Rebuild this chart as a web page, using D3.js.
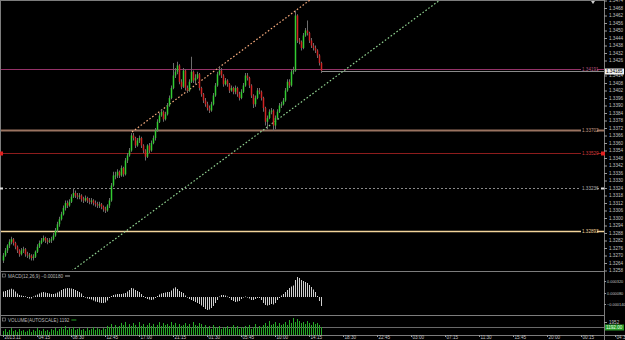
<!DOCTYPE html>
<html>
<head>
<meta charset="utf-8">
<script src="https://cdn.jsdelivr.net/npm/d3@7"></script>
<style>
body{margin:0;background:#000;}
svg{display:block;}
text{font-family:"Liberation Sans",Arial,sans-serif;}
</style>
</head>
<body>
<div id="chart"></div>
<script>
// ---- DATA (EURUSD-like M15 bars) ----
let opens = [
1.3266,1.3270,1.3274,1.3278,1.3281,1.3283,1.3280,1.3277,1.3274,1.3271,
1.3274,1.3275,1.3271,1.3270,1.3270,1.3268,1.3269,1.3273,1.3277,1.3280,
1.3282,1.3284,1.3282,1.3281,1.3282,1.3283,1.3286,1.3290,1.3295,1.3299,
1.3303,1.3308,1.3312,1.3310,1.3313,1.3317,1.3320,1.3318,1.3317,1.3318,
1.3315,1.3314,1.3316,1.3314,1.3313,1.3314,1.3312,1.3311,1.3310,1.3311,
1.3309,1.3307,1.3306,1.3310,1.3314,1.3326,1.3334,1.3334,1.3337,1.3334,
1.3340,1.3335,1.3346,1.3350,1.3354,1.3366,1.3364,1.3358,1.3362,1.3364,
1.3358,1.3354,1.3349,1.3358,1.3354,1.3360,1.3364,1.3370,1.3377,1.3382,
1.3385,1.3379,1.3383,1.3390,1.3396,1.3404,1.3414,1.3417,1.3422,1.3409,
1.3405,1.3418,1.3404,1.3402,1.3409,1.3417,1.3410,1.3412,1.3415,1.3404,
1.3399,1.3394,1.3391,1.3388,1.3386,1.3391,1.3398,1.3406,1.3415,1.3418,
1.3414,1.3407,1.3410,1.3407,1.3402,1.3404,1.3401,1.3404,1.3399,1.3396,
1.3401,1.3406,1.3414,1.3412,1.3406,1.3398,1.3391,1.3396,1.3402,1.3401,
1.3396,1.3388,1.3377,1.3380,1.3385,1.3386,1.3374,1.3380,1.3385,1.3390,
1.3391,1.3394,1.3402,1.3409,1.3406,1.3417,1.3418,1.3462,1.3442,1.3441,
1.3436,1.3446,1.3450,1.3448,1.3442,1.3438,1.3436,1.3434,1.3430,1.3424];

let highs = [
1.3272,1.3276,1.3279,1.3283,1.3285,1.3284,1.3281,1.3278,1.3275,1.3276,
1.3277,1.3276,1.3273,1.3272,1.3271,1.3271,1.3274,1.3279,1.3282,1.3284,
1.3286,1.3285,1.3284,1.3284,1.3285,1.3288,1.3292,1.3297,1.3301,1.3305,
1.3310,1.3314,1.3314,1.3315,1.3319,1.3324,1.3322,1.3320,1.3320,1.3319,
1.3317,1.3318,1.3317,1.3316,1.3316,1.3315,1.3314,1.3313,1.3313,1.3312,
1.3310,1.3309,1.3311,1.3316,1.3328,1.3337,1.3337,1.3339,1.3338,1.3342,
1.3341,1.3348,1.3352,1.3356,1.3368,1.3368,1.3365,1.3364,1.3366,1.3365,
1.3359,1.3355,1.3359,1.3360,1.3362,1.3366,1.3372,1.3379,1.3384,1.3387,
1.3386,1.3385,1.3392,1.3398,1.3406,1.3424,1.3420,1.3425,1.3423,1.3411,
1.3420,1.3419,1.3406,1.3411,1.3429,1.3418,1.3415,1.3417,1.3416,1.3405,
1.3400,1.3396,1.3393,1.3390,1.3393,1.3400,1.3408,1.3417,1.3421,1.3420,
1.3415,1.3412,1.3411,1.3408,1.3406,1.3405,1.3406,1.3405,1.3401,1.3403,
1.3408,1.3416,1.3416,1.3413,1.3407,1.3399,1.3398,1.3404,1.3404,1.3402,
1.3397,1.3389,1.3382,1.3387,1.3388,1.3387,1.3382,1.3387,1.3392,1.3393,
1.3396,1.3404,1.3411,1.3411,1.3419,1.3421,1.3466,1.3463,1.3444,1.3442,
1.3448,1.3452,1.3458,1.3449,1.3444,1.3440,1.3438,1.3435,1.3431,1.3425];

let lows = [
1.3264,1.3269,1.3272,1.3276,1.3279,1.3278,1.3275,1.3272,1.3269,1.3270,
1.3272,1.3269,1.3268,1.3267,1.3266,1.3266,1.3268,1.3272,1.3276,1.3279,
1.3281,1.3280,1.3279,1.3280,1.3280,1.3282,1.3285,1.3289,1.3293,1.3298,
1.3302,1.3306,1.3308,1.3309,1.3312,1.3316,1.3316,1.3315,1.3315,1.3313,
1.3312,1.3313,1.3312,1.3311,1.3311,1.3310,1.3309,1.3308,1.3308,1.3307,
1.3305,1.3304,1.3305,1.3308,1.3313,1.3325,1.3331,1.3332,1.3332,1.3333,
1.3333,1.3334,1.3344,1.3349,1.3353,1.3362,1.3356,1.3357,1.3360,1.3356,
1.3352,1.3346,1.3348,1.3352,1.3353,1.3359,1.3362,1.3369,1.3376,1.3381,
1.3377,1.3378,1.3382,1.3389,1.3395,1.3403,1.3412,1.3415,1.3407,1.3403,
1.3404,1.3402,1.3400,1.3401,1.3408,1.3408,1.3407,1.3411,1.3402,1.3397,
1.3392,1.3389,1.3386,1.3384,1.3385,1.3390,1.3397,1.3405,1.3414,1.3412,
1.3405,1.3406,1.3405,1.3400,1.3401,1.3399,1.3399,1.3397,1.3394,1.3395,
1.3400,1.3405,1.3410,1.3404,1.3396,1.3388,1.3389,1.3395,1.3399,1.3394,
1.3385,1.3374,1.3371,1.3379,1.3383,1.3370,1.3371,1.3379,1.3384,1.3388,
1.3390,1.3393,1.3401,1.3404,1.3405,1.3415,1.3417,1.3440,1.3439,1.3434,
1.3435,1.3445,1.3446,1.3440,1.3436,1.3434,1.3432,1.3428,1.3422,1.3416];

let closes = [
1.3270,1.3274,1.3278,1.3281,1.3283,1.3280,1.3277,1.3274,1.3271,1.3274,
1.3275,1.3271,1.3270,1.3270,1.3268,1.3269,1.3273,1.3277,1.3280,1.3282,
1.3284,1.3282,1.3281,1.3282,1.3283,1.3286,1.3290,1.3295,1.3299,1.3303,
1.3308,1.3312,1.3310,1.3313,1.3317,1.3320,1.3318,1.3317,1.3318,1.3315,
1.3314,1.3316,1.3314,1.3313,1.3314,1.3312,1.3311,1.3310,1.3311,1.3309,
1.3307,1.3306,1.3310,1.3314,1.3326,1.3334,1.3334,1.3337,1.3334,1.3340,
1.3335,1.3346,1.3350,1.3354,1.3366,1.3364,1.3358,1.3362,1.3364,1.3358,
1.3354,1.3349,1.3358,1.3354,1.3360,1.3364,1.3370,1.3377,1.3382,1.3385,
1.3379,1.3383,1.3390,1.3396,1.3404,1.3414,1.3417,1.3422,1.3409,1.3405,
1.3418,1.3404,1.3402,1.3409,1.3417,1.3410,1.3412,1.3415,1.3404,1.3399,
1.3394,1.3391,1.3388,1.3386,1.3391,1.3398,1.3406,1.3415,1.3418,1.3414,
1.3407,1.3410,1.3407,1.3402,1.3404,1.3401,1.3404,1.3399,1.3396,1.3401,
1.3406,1.3414,1.3412,1.3406,1.3398,1.3391,1.3396,1.3402,1.3401,1.3396,
1.3388,1.3377,1.3380,1.3385,1.3386,1.3374,1.3380,1.3385,1.3390,1.3391,
1.3394,1.3402,1.3409,1.3406,1.3417,1.3418,1.3462,1.3442,1.3441,1.3436,
1.3446,1.3450,1.3448,1.3442,1.3438,1.3436,1.3434,1.3430,1.3424,1.3418];

let macdVals = [
0.00011,0.00012,0.00014,0.00015,0.000166,0.00015,0.00011,0.00007,0.00004,0.00003,
0.00002,0.000014,-0.00002,-0.00003,-0.00003,0.00001,0.00003,0.00005,0.00007,0.00009,
0.0001,0.00009,0.00008,0.00007,0.00006,0.00006,0.00007,0.00009,0.00011,0.00014,
0.00016,0.00017,0.00018,0.000176,0.00017,0.00016,0.00014,0.00012,0.0001,0.00007,
0.00002,-0.00001,-0.00003,-0.00004,-0.00005,-0.00007,-0.00009,-0.0001,-0.00011,-0.00012,
-0.00012,-0.00011,-0.00007,-0.00002,0.00002,0.00004,0.00005,0.00006,0.00006,0.00006,
0.00007,0.00008,0.00011,0.00014,0.00018,0.00017,0.00014,0.00012,0.0001,0.00006,
0.00002,-0.00002,-0.00004,-0.00005,-0.00006,-0.00005,-0.00002,0.00002,0.00005,0.00007,
0.00008,0.00009,0.0001,0.0001,0.00013,0.00017,0.000194,0.00016,0.00012,0.0001,
0.00008,0.00003,-0.00001,-0.00004,-0.00006,-0.00008,-0.0001,-0.00012,-0.00014,-0.00017,
-0.0002,-0.00024,-0.00026,-0.00025,-0.00022,-0.00018,-0.00012,-0.00006,0.00001,0.00004,
0.00004,0.00003,0.00001,-0.00002,-0.00006,-0.00008,-0.0001,-0.00009,-0.00008,-0.00004,
-0.00001,0.00001,0,-0.00003,-0.00006,-0.00006,-0.00004,-0.00002,-0.00002,-0.00006,
-0.00012,-0.00016,-0.00017,-0.00016,-0.00014,-0.00015,-0.00012,-0.00006,-0.00002,0.00003,
0.00006,0.0001,0.00014,0.00018,0.00021,0.00023,0.00034,0.0004,0.00038,0.00034,
0.00032,0.0003,0.00028,0.00024,0.0002,0.00015,0.0001,0.00002,-0.00008,-0.00018];

let volumes = [
612,884,455,760,1037,590,742,468,905,611,
733,470,622,881,452,769,605,1044,748,590,
917,602,751,476,893,740,1061,618,902,1209,
886,1352,764,1050,911,1188,742,902,1040,755,
897,611,1055,748,920,1196,763,1047,889,752,
1039,904,1366,1201,1648,1052,1497,1186,1344,1812,
1503,1958,1211,1640,1355,1797,1512,1198,1944,1361,
1652,1207,1488,1806,1349,1661,1203,1511,1936,1344,
1790,1502,1655,1352,1947,1493,1808,1215,1647,1368,
1510,1795,1346,1652,1196,1952,1504,1357,1800,1644,
1208,1495,1052,1358,897,1502,1190,1046,1351,905,
1197,1061,1349,903,1212,1490,1057,1355,894,1203,
1048,1362,1195,1507,911,1204,1649,1043,1347,1210,
1496,1807,1352,2104,1509,1655,1948,1360,1795,1498,
1662,1951,1505,2247,1806,2553,1940,2398,2101,1793,
1955,1648,2096,1810,1497,1941,1652,1802,1506,1192];

// horizontal price levels drawn on the chart
let levelPrices = [1.34191, 1.33702, 1.33520, 1.33236, 1.32893];
let bidPrice = 1.34185;

// trend channel anchors: [bar index, price]
let channelUpper = [[64.5, 1.33688], [153.5, 1.34744]];
let channelLower = [[30, 1.32525], [218.5, 1.34744]];

// axis ticks / labels
let priceTicks = [1.3474,1.3468,1.3462,1.3456,1.3450,1.3444,1.3438,1.3432,1.3426,1.3420,
  1.3414,1.3408,1.3402,1.3396,1.3390,1.3384,1.3378,1.3372,1.3366,1.3360,1.3354,1.3348,
  1.3342,1.3336,1.3330,1.3324,1.3318,1.3312,1.3306,1.3300,1.3294,1.3288,1.3282,1.3276,
  1.3270,1.3264,1.3258];
let macdTicks = [0.00032, 0.00008, -0.00014];
let volTicks = [1952];
let timeIdx = [0,17,34,51,68,85,102,119,136,153,170,187,204,221,238,255,272,289,306];
let timeLabels = ["2013.11","04:15","08:30","12:45","17:00","21:15","01:30","05:45","10:00",
  "14:15","18:30","22:45","03:00","07:15","11:30","15:45","20:00","00:15","04:30"];

//DIMENSIONS
let widthh = 625, heightt = 340, plotR = 604;
let fontS = 4.6;

let svg = d3.select('#chart').append('svg')
  .attr('width', widthh).attr('height', heightt)
  .style('background-color', '#000');

let xScale = d3.scaleLinear().domain([0, 300]).range([3, 603]);
let yScale = d3.scaleLinear().domain([1.32584, 1.34744]).range([270, 0]);
let yMacd = d3.scaleLinear().domain([-0.00036, 0.00048]).range([315, 273]);
let yVol = d3.scaleLinear().domain([0, 2850]).range([335, 316]);

svg.append('clipPath').attr('id', 'mainClip')
  .append('rect').attr('x', 0).attr('y', 0).attr('width', plotR).attr('height', 270);

let frameCol = '#7c7c7c';
// frame / separators
let hl = (x1, x2, yy, col) => svg.append('line').attr('x1', x1).attr('x2', x2)
  .attr('y1', yy).attr('y2', yy).attr('stroke', col || frameCol).attr('stroke-width', 1);
hl(0, plotR, 0.5);
hl(0, plotR, 271.5);
hl(0, plotR, 315.5);
hl(0, widthh, 335.5);
svg.append('line').attr('x1', 0.5).attr('x2', 0.5).attr('y1', 0).attr('y2', 336).attr('stroke', frameCol);
svg.append('line').attr('x1', plotR + 0.5).attr('x2', plotR + 0.5).attr('y1', 0).attr('y2', heightt).attr('stroke', frameCol);

// ---- level lines ----
let levelStyle = [
  {col: '#953268', txt: '#b0507f', w: 1, dash: null},
  {col: '#9a7360', txt: '#c49a80', w: 2, dash: null},
  {col: '#8c1c1c', txt: '#d03a3a', w: 1, dash: null},
  {col: '#8a8a8a', txt: '#b0b0b0', w: 1, dash: '2,2'},
  {col: '#f2d49a', txt: '#f2d49a', w: 1.3, dash: null}
];
let gLev = svg.append('g');
levelPrices.forEach((p, i) => {
  let st = levelStyle[i], yy = Math.round(yScale(p)) + 0.5;
  gLev.append('line').attr('x1', 1).attr('x2', plotR).attr('y1', yy).attr('y2', yy)
    .attr('stroke', st.col).attr('stroke-width', st.w)
    .attr('stroke-dasharray', st.dash);
  gLev.append('rect').attr('x', 581).attr('y', yy - 3).attr('width', 16).attr('height', 6).attr('fill', '#000');
  gLev.append('text').attr('x', 582).attr('y', yy).attr('dy', '0.35em')
    .style('font-size', fontS + 'px').style('fill', st.txt).text(d3.format('.5f')(p));
});
// red level markers at both edges
let redY = Math.round(yScale(levelPrices[2]));
svg.append('rect').attr('x', 0).attr('y', redY - 1.5).attr('width', 3).attr('height', 4).attr('fill', '#e02020');
svg.append('rect').attr('x', 601).attr('y', redY - 1.5).attr('width', 4).attr('height', 4).attr('fill', '#e02020');
let dotY = Math.round(yScale(levelPrices[3]));
svg.append('rect').attr('x', 0).attr('y', dotY - 0.5).attr('width', 3).attr('height', 2).attr('fill', '#ddd');
svg.append('rect').attr('x', 601).attr('y', dotY - 0.5).attr('width', 3).attr('height', 2).attr('fill', '#ddd');

// bid line from last bar
let bidY = Math.round(yScale(bidPrice)) + 1.5;
svg.append('line').attr('x1', xScale(closes.length - 1)).attr('x2', plotR)
  .attr('y1', bidY).attr('y2', bidY).attr('stroke', '#8a8a8a');

// ---- channels ----
let chLine = d3.line().x(d => xScale(d[0])).y(d => yScale(d[1]));
let gCh = svg.append('g').attr('clip-path', 'url(#mainClip)');
gCh.append('path').attr('d', chLine(channelUpper)).attr('fill', 'none')
  .attr('stroke', '#f5aa7c').attr('stroke-width', 1.2).attr('stroke-dasharray', '1.6,2');
gCh.append('path').attr('d', chLine(channelLower)).attr('fill', 'none')
  .attr('stroke', '#8fd08f').attr('stroke-width', 1.2).attr('stroke-dasharray', '1.6,2');

// ---- candles ----
let bars = closes.map((c, i) => ({i: i, o: opens[i], h: highs[i], l: lows[i], c: c}));
let gC = svg.append('g');
gC.selectAll('line.wick').data(bars).enter().append('line').attr('class', 'wick')
  .attr('x1', d => xScale(d.i) + 0.5).attr('x2', d => xScale(d.i) + 0.5)
  .attr('y1', d => yScale(d.h)).attr('y2', d => yScale(d.l))
  .attr('stroke', '#6c6c6c').attr('stroke-width', 1);
gC.selectAll('rect.body').data(bars).enter().append('rect').attr('class', 'body')
  .attr('x', d => xScale(d.i) - 0.25)
  .attr('width', 1.5)
  .attr('y', d => yScale(Math.max(d.o, d.c)))
  .attr('height', d => Math.max(1, Math.abs(yScale(d.o) - yScale(d.c))))
  .attr('fill', d => d.c >= d.o ? '#33cc33' : '#d02424');

// ---- MACD ----
let gM = svg.append('g');
gM.selectAll('rect').data(macdVals).enter().append('rect')
  .attr('x', (d, i) => xScale(i)).attr('width', 1)
  .attr('y', d => yMacd(Math.max(0, d)))
  .attr('height', d => Math.max(0.6, Math.abs(yMacd(d) - yMacd(0))))
  .attr('fill', '#cfcfcf');

// ---- Volume ----
let lastVol = volumes[volumes.length - 1];
hl(1, plotR, Math.round(yVol(lastVol)) + 0.5, '#6a6a6a');
let gV = svg.append('g');
gV.selectAll('rect').data(volumes).enter().append('rect')
  .attr('x', (d, i) => xScale(i)).attr('width', 1)
  .attr('y', d => yVol(d)).attr('height', d => yVol(0) - yVol(d))
  .attr('fill', '#26a826');

// ---- axes ----
function styleAxis(g, fs) {
  g.select('.domain').remove();
  g.selectAll('line').attr('stroke', '#9a9a9a');
  g.selectAll('text').style('font-size', (fs || fontS) + 'px').style('fill', '#c0c0c0')
    .style('font-family', '"Liberation Sans",Arial,sans-serif');
}
// the tick hidden under the bid box is left out, as in the terminal
let shownPrice = priceTicks.filter(p => Math.abs(yScale(p) - bidY) > 4);
svg.append('g').attr('transform', `translate(${plotR},0)`)
  .call(d3.axisRight(yScale).tickValues(shownPrice).tickSize(3).tickPadding(2).tickFormat(d3.format('.4f')))
  .call(styleAxis);
svg.append('g').attr('transform', `translate(${plotR},0)`)
  .call(d3.axisRight(yMacd).tickValues(macdTicks).tickSize(2).tickPadding(1).tickFormat(d3.format('.6f')))
  .call(g => styleAxis(g, 3.9));
svg.append('g').attr('transform', `translate(${plotR},0)`)
  .call(d3.axisRight(yVol).tickValues(volTicks).tickSize(3).tickPadding(2).tickFormat(d3.format('d')))
  .call(styleAxis);
svg.append('g').attr('transform', 'translate(0,335)')
  .call(d3.axisBottom(xScale).tickValues(timeIdx).tickSize(2).tickFormat((d, i) => timeLabels[i]))
  .call(styleAxis)
  .call(g => g.selectAll('text').attr('text-anchor', 'start').attr('x', 1).attr('y', 1).attr('dy', '0.71em'));

// current price box
svg.append('rect').attr('x', 605).attr('y', bidY - 3).attr('width', 19).attr('height', 6).attr('fill', '#f2f2f2');
svg.append('text').attr('x', 606).attr('y', bidY).attr('dy', '0.35em')
  .style('font-size', fontS + 'px').style('fill', '#000').text(d3.format('.5f')(bidPrice));
// current volume box
let vY = Math.round(yVol(lastVol)) + 0.5;
svg.append('rect').attr('x', 605).attr('y', vY - 3).attr('width', 19).attr('height', 6).attr('fill', '#2a9a2a');
svg.append('text').attr('x', 606).attr('y', vY).attr('dy', '0.35em')
  .style('font-size', fontS + 'px').style('fill', '#e8ffe8').text(d3.format('.2f')(lastVol));

// chart shift marker
svg.append('path').attr('d', 'M591,1 L595,1 L593,4 Z').attr('fill', '#cfcfcf');

// ---- sub-window legends ----
function legend(yy, label, dashCol) {
  svg.append('rect').attr('x', 2.5).attr('y', yy - 2).attr('width', 3).attr('height', 3)
    .attr('fill', 'none').attr('stroke', '#9a9a9a').attr('stroke-width', 0.6);
  let t = svg.append('text').attr('x', 8).attr('y', yy).attr('dy', '0.35em')
    .style('font-size', fontS + 'px').style('fill', '#b8b8b8').text(label);
  let w = t.node().getComputedTextLength();
  svg.append('line').attr('x1', 10 + w).attr('x2', 15 + w).attr('y1', yy).attr('y2', yy)
    .attr('stroke', dashCol).attr('stroke-width', 1);
}
legend(276, 'MACD(12,26,9) ' + d3.format('.6f')(macdVals[macdVals.length - 1]), '#b0b0b0');
legend(320, 'VOLUME(AUTOSCALE) ' + lastVol, '#22a022');
</script>
</body>
</html>
